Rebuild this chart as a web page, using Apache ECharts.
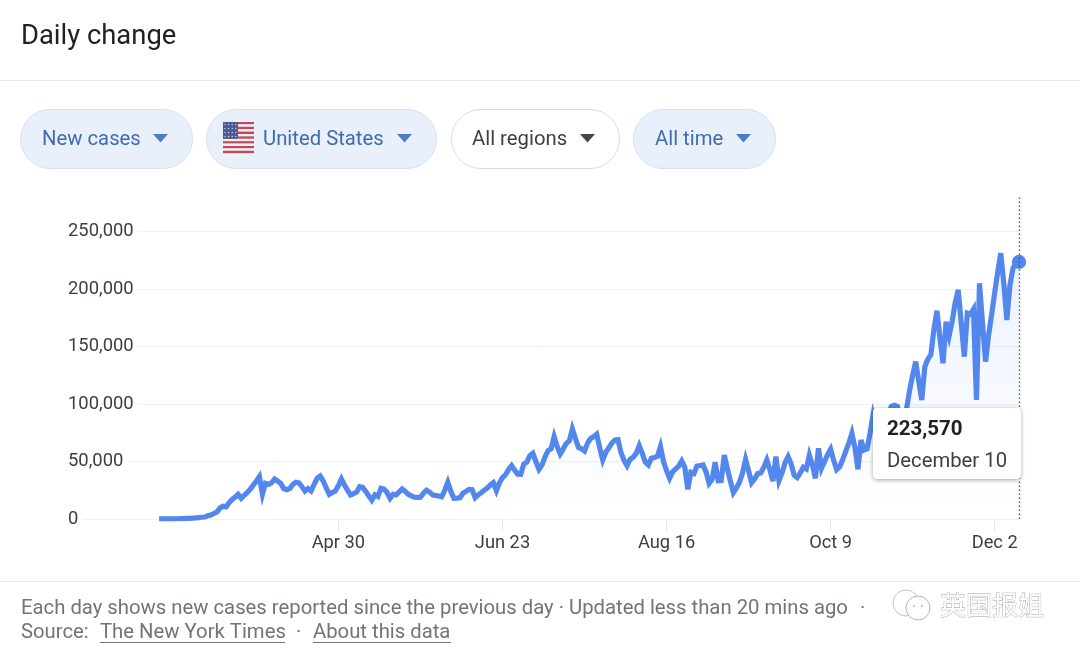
<!DOCTYPE html>
<html>
<head>
<meta charset="utf-8">
<title>Daily change</title>
<style>
	html, body { margin: 0; padding: 0; background: #fff; }
	#chart { width: 1080px; height: 653px; }
</style>
<script src="https://cdn.jsdelivr.net/npm/echarts@6/dist/echarts.min.js"></script>
</head>
<body>
<div id="chart"></div>
<script>
// the axis runs from Feb 1 2020, the line only starts on Mar 2
const startDay = Date.UTC(2020, 1, 1);
const emptyDays = 30;
const monthNames = ['Jan', 'Feb', 'Mar', 'Apr', 'May', 'Jun', 'Jul', 'Aug', 'Sep', 'Oct', 'Nov', 'Dec'];
const tickLabels = ['Apr 30', 'Jun 23', 'Aug 16', 'Oct 9', 'Dec 2'];

// new cases per day, Mar 2 to Dec 10
const newCases = [
	30, 40, 60, 80, 100, 150, 200, 300, 400, 500, 550, 700, 900, 1200, 1500,
	1700, 2800, 3500, 4800, 6000, 9500, 11000, 10500, 14000, 17000, 19000, 21500, 18000, 20500, 23000,
	26000, 29500, 33000, 36800, 21500, 31000, 30000, 31500, 34800, 33000, 31000, 26500, 25500, 26500, 30000,
	32000, 31500, 28000, 24400, 26500, 24400, 30000, 35400, 37400, 33000, 27000, 21500, 23000, 24400, 29000,
	34800, 29500, 25000, 20900, 22000, 23500, 28100, 27500, 24000, 20000, 16300, 21000, 19500, 26700, 26000,
	23000, 18000, 21500, 21000, 23500, 26100, 24000, 21500, 20000, 18900, 18800, 18900, 22500, 25000, 23500,
	21000, 20500, 20000, 19400, 25000, 31900, 24000, 18000, 18200, 18500, 22400, 24000, 25800, 25500, 18500,
	21000, 22800, 25000, 27000, 29500, 31600, 24600, 31500, 36000, 38500, 43000, 46400, 42500, 39000, 38900,
	47800, 49500, 55000, 57100, 50000, 43200, 47000, 54000, 59500, 61000, 71600, 63000, 56600, 61000, 65800,
	68000, 78300, 70000, 62300, 61000, 59200, 66000, 70000, 71500, 73700, 62000, 51300, 58000, 62000, 66000,
	68700, 69000, 58000, 51000, 46400, 52000, 53700, 57000, 63800, 57000, 49500, 47000, 52800, 53500, 54500,
	62900, 50000, 42000, 35400, 41000, 43500, 46000, 50500, 45000, 25800, 40600, 39500, 46100, 46500, 47000,
	41000, 31000, 34500, 49300, 33300, 33500, 55700, 44000, 33000, 22900, 27000, 32000, 40000, 51900, 42000,
	31600, 35000, 39500, 40000, 45000, 51300, 43000, 33000, 54200, 33300, 40000, 49000, 54200, 48000, 38000,
	36000, 40000, 45000, 43500, 55500, 47000, 35400, 61500, 44100, 50000, 56000, 60600, 51000, 43000, 45500,
	52000, 59000, 66000, 74500, 62000, 43200, 68700, 60000, 61000, 75000, 91000, 82000, 85000, 78000, 88000,
	92000, 98000, 99000, 98000, 85000, 76000, 96000, 112000, 125000, 136900, 120000, 103500, 132500, 139000, 143000,
	165000, 181200, 157000, 135500, 171600, 159500, 172000, 188000, 199200, 170000, 141200, 179000, 178000, 182400, 103500,
	205000, 170000, 136900, 160000, 178000, 197000, 215000, 231100, 205000, 173100, 203000, 218000, 222500, 223570,
];
const tipValue = '223,570';
const tipDate = 'December 10';

const chips = ['New cases', 'United States', 'All regions', 'All time'];
const footerLine = 'Each day shows new cases reported since the previous day · Updated less than 20 mins ago';
const footerSource = 'Source:';
const footerLinks = ['The New York Times', 'About this data'];

const lineColor = '#4c7bd8';
const chipText = '#3f6cb0';
const grayText = '#70757a';
const fontName = 'Roboto, Arial, sans-serif';

const categories = [];
for (let i = 0; i < emptyDays + newCases.length; i++) {
	const d = new Date(startDay + i * 86400000);
	categories.push(monthNames[d.getUTCMonth()] + ' ' + d.getUTCDate());
}
const lastIndex = categories.length - 1;

const seriesData = Array(emptyDays).fill(null).concat(newCases).map((v, i) => {
	if (i === lastIndex) {
		return { value: v, symbol: 'circle', symbolSize: 13, itemStyle: { color: lineColor } };
	}
	return v;
});

const isTick = (i) => tickLabels.includes(categories[i]);

const text = (x, y, str, size, color, extra) => ({
	type: 'text',
	x: x,
	y: y,
	style: Object.assign(
		{ text: str, fill: color, font: size + 'px ' + fontName, verticalAlign: 'middle' },
		extra
	),
});

const hline = (x1, x2, y, color) => ({
	type: 'line',
	shape: { x1: x1, y1: y, x2: x2, y2: y },
	style: { stroke: color, lineWidth: 1 },
});

const chip = (x, w, label, textX, caretX, active) => {
	const caret = active ? '#4a7cc9' : '#444746';
	return [
		{
			type: 'rect',
			shape: { x: x + 0.5, y: 109.5, width: w, height: 59, r: 29.5 },
			style: { fill: active ? '#e9f0fb' : '#fff', stroke: active ? '#d6e0ef' : '#dadce0', lineWidth: 1 },
		},
		text(textX, 140, label, 20.3, active ? chipText : '#3c4043'),
		{
			type: 'polygon',
			shape: { points: [[caretX, 134], [caretX + 15, 134], [caretX + 7.5, 142.5]] },
			style: { fill: caret },
		},
	];
};

const flag = () => {
	const out = [];
	for (let i = 0; i < 13; i++) {
		out.push({
			type: 'rect',
			shape: { x: 223, y: 122 + i * 2.4, width: 31, height: 2.4 },
			style: { fill: i % 2 ? '#f3ecee' : '#bb4a5c' },
		});
	}
	out.push({
		type: 'rect',
		shape: { x: 223, y: 122, width: 15, height: 16.8 },
		style: { fill: '#4c5a94' },
	});
	for (let r = 0; r < 4; r++) {
		for (let c = 0; c < 4; c++) {
			out.push({
				type: 'circle',
				shape: { cx: 225 + c * 3.6, cy: 124.5 + r * 4, r: 0.7 },
				style: { fill: '#cfd4e6' },
			});
		}
	}
	return out;
};

const option = {
	animation: false,
	backgroundColor: '#fff',
	title: {
		text: 'Daily change',
		left: 16,
		top: 19,
		textStyle: { fontFamily: fontName, fontSize: 27.4, fontWeight: 'normal', color: '#202124' },
	},
	grid: { left: 68, right: 61, top: 195, bottom: 134 },
	tooltip: {
		trigger: 'axis',
		triggerOn: 'none',
		alwaysShowContent: true,
		transitionDuration: 0,
		position: [873, 408],
		padding: 0,
		borderWidth: 0,
		backgroundColor: '#fff',
		extraCssText: 'width:148px;height:71px;border-radius:4px;box-shadow:0 1px 4px rgba(0,0,0,.35);',
		formatter: () =>
			'<div style="font-family:Roboto,Arial,sans-serif;padding:8px 14px;color:#202124;line-height:24px;">' +
			'<div style="font-size:20.5px;font-weight:700;">' + tipValue + '</div>' +
			'<div style="font-size:20.3px;margin-top:8px;color:#3c4043;">' + tipDate + '</div></div>',
	},
	xAxis: {
		type: 'category',
		boundaryGap: false,
		data: categories,
		axisLine: { show: false },
		axisTick: { show: true, interval: isTick, length: 13, lineStyle: { color: '#e8eaed' } },
		axisLabel: {
			interval: isTick,
			margin: 15,
			fontSize: 18.3,
			fontFamily: fontName,
			color: '#3c4043',
			hideOverlap: false,
		},
		axisPointer: {
			show: true,
			type: 'line',
			snap: false,
			value: lastIndex,
			status: 'show',
			label: { show: false },
			lineStyle: { color: '#555', width: 1.4, type: [1.5, 2.5] },
		},
		splitLine: { show: false },
	},
	yAxis: {
		type: 'value',
		min: 0,
		max: 281800,
		interval: 50000,
		axisLine: { show: false },
		axisTick: { show: false },
		axisLabel: {
			inside: true,
			margin: 0,
			align: 'left',
			fontSize: 18.4,
			fontFamily: fontName,
			color: '#3c4043',
			showMaxLabel: false,
			backgroundColor: '#fff',
			padding: [4, 4, 0, 0],
			formatter: (v) => v.toLocaleString('en-US'),
		},
		splitLine: { show: true, showMaxLine: false, lineStyle: { color: '#f0f1f2', width: 1 } },
	},
	series: [
		{
			type: 'line',
			data: seriesData,
			symbol: 'none',
			showAllSymbol: true,
			connectNulls: false,
			lineStyle: { color: lineColor, width: 5.2, join: 'miter', miterLimit: 5 },
			itemStyle: { color: lineColor },
			areaStyle: {
				color: {
					type: 'linear',
					x: 0,
					y: 0,
					x2: 0,
					y2: 1,
					colorStops: [
						{ offset: 0, color: 'rgba(77,126,219,0.16)' },
						{ offset: 1, color: 'rgba(77,126,219,0)' },
					],
				},
			},
		},
	],
	graphic: [].concat(
		hline(0, 1080, 80.5, '#e8eaed'),
		hline(0, 1080, 581.5, '#e8eaed'),
		chip(20, 172, chips[0], 42, 153, true),
		chip(206, 230, chips[1], 263, 397, true),
		flag(),
		chip(451, 168, chips[2], 472, 580, false),
		chip(633, 142, chips[3], 655, 736, true),
		text(21, 608.5, footerLine, 20.3, grayText),
		text(860, 608.5, '·', 20, grayText),
		text(21, 632.5, footerSource, 20.3, grayText),
		text(100, 632.5, footerLinks[0], 20.3, grayText),
		hline(100, 285, 642.5, grayText),
		text(296, 632.5, '·', 20, grayText),
		text(313, 632.5, footerLinks[1], 20.3, grayText),
		hline(313, 451, 642.5, grayText),
		{
			type: 'circle',
			shape: { cx: 906, cy: 603, r: 13 },
			style: { fill: '#fff', stroke: '#c4c4c4', lineWidth: 1 },
		},
		{
			type: 'circle',
			shape: { cx: 918, cy: 608, r: 12 },
			style: { fill: '#fff', stroke: '#b4b4b4', lineWidth: 1 },
		},
		{ type: 'circle', shape: { cx: 914, cy: 606, r: 1 }, style: { fill: '#b4b4b4' } },
		{ type: 'circle', shape: { cx: 922, cy: 606, r: 1 }, style: { fill: '#b4b4b4' } },
		{
			type: 'text',
			x: 940,
			y: 605,
			style: {
				text: '英国报姐',
				font: '26px "Noto Sans CJK SC", sans-serif',
				fill: '#fff',
				stroke: '#a0a0a0',
				lineWidth: 0.8,
				verticalAlign: 'middle',
			},
		}
	),
};

const myChart = echarts.init(document.getElementById('chart'));
myChart.setOption(option);
myChart.dispatchAction({ type: 'showTip', seriesIndex: 0, dataIndex: lastIndex });
</script>
</body>
</html>
